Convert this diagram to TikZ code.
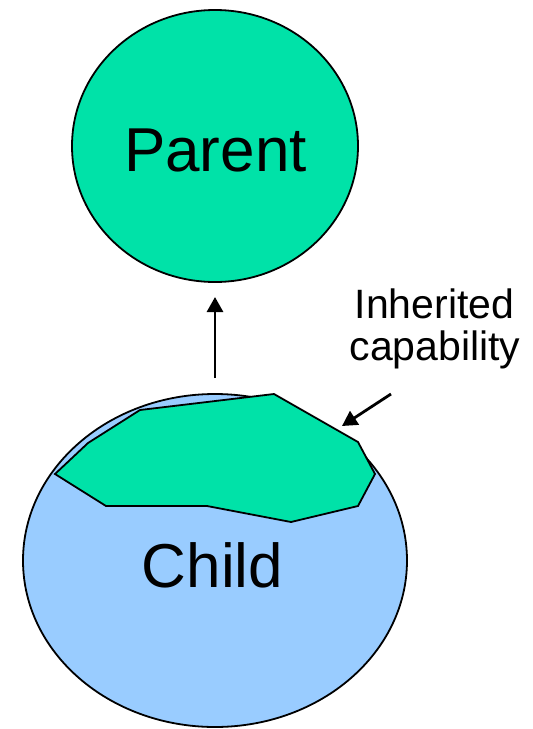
\documentclass[tikz,border=0pt]{standalone}
\usepackage{fontspec}
\setmainfont{Liberation Sans}
\usetikzlibrary{arrows.meta}
\definecolor{pgreen}{RGB}{0,226,168}
\definecolor{cblue}{RGB}{153,204,255}
\begin{document}
\begin{tikzpicture}[x=1pt,y=-1pt,
  blob/.style={draw=black,line width=1.8pt},
  conn/.style={draw=black,line width=2.8pt,-{Triangle[length=15pt,width=16pt]}},
  bigtxt/.style={font=\fontsize{62}{70}\selectfont,inner sep=0pt,anchor=base},
  lbltxt/.style={font=\fontsize{41}{42}\selectfont,inner sep=0pt,anchor=base}]
\useasboundingbox (0,0) rectangle (533,729);
% parent
\draw[blob,fill=pgreen] (215,146) ellipse [x radius=143, y radius=136];
\node[bigtxt] (parent) at (215.5,171) {Parent};
\coordinate (parentbottom) at (215,283);
% child
\draw[blob,fill=cblue] (215,560.5) ellipse [x radius=192, y radius=166.5];
\draw[blob,fill=pgreen,line join=miter]
  (55,474) -- (88,443) -- (140,410) -- (274,394) -- (358,442) -- (375,474)
  -- (358,506) -- (291,522) -- (207,506) -- (106,506) -- cycle;
\node[bigtxt] (child) at (212.5,587) {Child};
% arrows
\coordinate (upstart) at (215,378);
\coordinate (uptip) at (215,297);
\draw[conn] (upstart) -- (uptip);
\node[lbltxt] (label1) at (434.5,318) {Inherited};
\node[lbltxt] (label2) at (435,360) {capability};
\coordinate (lblstart) at (391,394);
\coordinate (lbltip) at (342,426);
\draw[conn] (lblstart) -- (lbltip);
\end{tikzpicture}
\end{document}
